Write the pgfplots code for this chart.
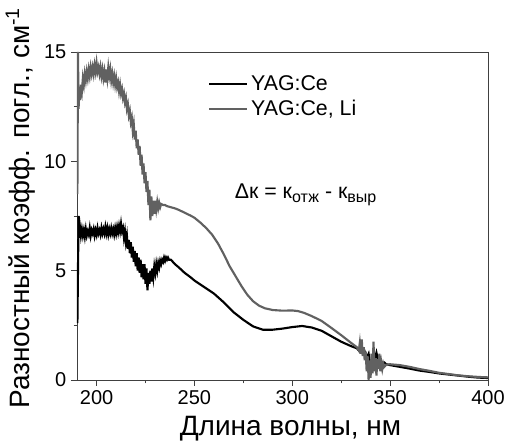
\documentclass[border=0pt]{standalone}
\usepackage{fontspec}
\setmainfont{Liberation Sans}
\usepackage{pgfplots}
\pgfplotsset{compat=1.18}

\pgfplotstableread{
x y
190.2 2.6
190.5 5.0
190.8 7.5
191.0 6.5
191.5 7.0
192.0 6.6
192.5 6.9
193.0 6.6
193.5 6.85
194.0 6.55
194.5 6.9
195.0 6.6
195.5 6.8
196.0 6.65
196.5 6.95
197.0 6.6
197.5 6.85
198.0 6.7
198.5 6.9
199.0 6.6
199.5 6.85
200.0 6.65
200.5 6.95
201.0 6.7
201.5 6.85
202.0 6.65
202.5 6.95
203.0 6.7
203.5 6.9
204.0 6.7
204.5 7.0
205.0 6.7
205.5 6.95
206.0 6.65
206.5 6.9
207.0 6.7
207.5 6.95
208.0 6.7
208.5 6.9
209.0 6.65
209.5 6.95
210.0 6.7
210.5 7.0
211.0 6.75
211.5 7.05
212.0 6.8
212.5 7.15
213.0 6.8
213.5 6.95
214.0 6.5
214.5 6.8
215.0 6.3
215.5 6.6
216.0 6.0
216.5 6.4
217.0 5.8
217.5 6.3
218.0 5.6
218.5 6.1
219.0 5.4
219.5 5.9
220.0 5.2
220.5 5.8
221.0 5.0
221.5 5.6
222.0 4.9
222.5 5.5
223.0 4.7
223.5 5.3
224.0 4.6
224.5 5.3
225.0 4.4
225.5 5.1
226.0 4.1
226.5 4.9
227.0 4.4
227.5 5.0
228.0 4.5
228.5 5.1
229.0 4.7
229.5 5.2
230.0 4.9
230.5 5.3
231.0 5.0
231.5 5.35
232.0 5.15
232.5 5.45
233.0 5.3
233.5 5.5
234.0 5.4
234.5 5.6
235.0 5.45
235.5 5.6
236.0 5.5
236.5 5.6
237.0 5.5
238.0 5.5
239.0 5.4
240.0 5.3
242 5.15
245 4.9
248 4.7
250 4.55
255 4.25
260 3.95
265 3.55
270 3.1
275 2.75
280 2.45
285 2.3
290 2.3
295 2.35
300 2.42
305 2.47
310 2.4
315 2.25
320 2.0
325 1.75
330 1.55
333 1.45
334 1.35
335 1.45
336 1.2
337 1.3
338 1.0
339 1.2
340 0.6
341 1.0
342 0.9
343 1.25
344 0.85
345 0.95
346 0.75
347 0.8
348 0.72
350 0.68
355 0.6
360 0.52
365 0.43
370 0.37
375 0.3
380 0.25
385 0.2
390 0.15
395 0.11
400 0.09
}\yagce

\pgfplotstableread{
x y
190.2 8.5
190.5 15.0
190.8 12.4
191.2 13.2
191.6 12.8
192.0 13.5
192.5 13.2
193.0 13.8
193.5 13.5
194.0 14.0
194.5 13.7
195.0 14.1
195.5 13.8
196.0 14.2
196.5 13.9
197.0 14.3
197.5 14.0
198.0 14.3
198.5 14.0
199.0 14.4
199.5 14.1
200.0 14.5
200.5 14.1
201.0 14.3
201.5 14.0
202.0 14.3
202.5 13.9
203.0 14.2
203.5 13.8
204.0 14.1
204.5 13.6
205.0 14.2
205.5 13.8
206.0 14.3
206.5 13.9
207.0 14.2
207.5 13.7
208.0 14.0
208.5 13.6
209.0 13.9
209.5 13.5
210.0 13.8
210.5 13.4
211.0 13.6
211.5 13.2
212.0 13.5
212.5 13.1
213.0 13.3
213.5 12.9
214.0 13.1
214.5 12.7
215.0 12.9
215.5 12.4
216.0 12.6
216.5 12.1
217.0 12.3
217.5 11.8
218.0 12.0
218.5 11.4
219.0 11.7
219.5 11.0
220.0 11.4
220.5 10.6
221.0 11.0
221.5 10.3
222.0 10.7
222.5 9.8
223.0 10.3
223.5 9.4
224.0 9.9
224.5 9.0
225.0 9.5
225.5 8.6
226.0 9.1
226.5 8.0
227.0 8.7
227.5 7.3
228.0 8.4
228.5 7.5
229.0 8.2
229.5 7.6
230.0 8.2
230.5 7.8
231.0 8.15
231.5 7.85
232.0 8.1
232.5 7.9
233.0 8.05
234.0 8.0
235.0 8.0
236.0 7.95
238.0 7.9
240.0 7.85
242 7.78
245 7.65
248 7.52
250 7.42
253 7.2
256 6.95
259 6.65
262 6.25
265 5.75
268 5.2
271 4.75
274 4.3
277 3.9
280 3.6
283 3.4
286 3.28
290 3.2
295 3.17
300 3.18
303 3.15
306 3.07
310 2.92
315 2.7
320 2.38
325 2.05
330 1.7
333 1.5
334 1.35
334.5 1.7
335 1.2
335.5 1.85
336 1.1
336.5 1.5
337 0.9
337.5 1.3
338 0.4
338.5 1.1
339 0.0
339.5 0.9
340 0.1
340.5 1.2
341 0.3
341.5 1.75
342 0.4
342.5 1.0
343 0.2
343.5 0.95
344 0.5
344.5 1.2
345 0.4
345.5 0.8
346 0.5
346.5 0.75
347 0.6
348 0.7
350 0.72
355 0.68
360 0.6
365 0.5
370 0.42
375 0.33
380 0.27
385 0.21
390 0.17
395 0.14
400 0.12
}\yagceli

\begin{document}
\begin{tikzpicture}
  \path[use as bounding box] (-57.75pt,-48.75pt) rectangle (323.25pt,285pt);
  \begin{axis}[
    at={(0,0)}, anchor=south west,
    scale only axis, width=308.25pt, height=246pt,
    xmin=190, xmax=400, ymin=0, ymax=15,
    xtick={200,250,...,400}, ytick={0,5,10,15},
    minor x tick num=1, minor y tick num=1,
    xtick pos=bottom, ytick pos=left,
    tick align=outside,
    major tick length=4.5pt, minor tick length=2.5pt,
    axis line style={black!75, line width=0.7pt},
    tick style={black!75, line width=0.7pt},
    /pgf/number format/assume math mode=true,
    ticklabel style={font=\fontsize{15}{16}\selectfont},
    xlabel={Длина волны, нм},
    ylabel={Разностный коэфф. погл., см\textsuperscript{-1}},
    label style={font=\fontsize{21}{22}\selectfont},
    xlabel style={xshift=6pt, yshift=-2pt},
    ylabel style={yshift=0pt, xshift=6pt},
    legend style={at={(axis cs:257,14.05)}, anchor=north west, draw=none, fill=none,
      font=\fontsize{16}{17}\selectfont, row sep=1.5pt, inner sep=0pt},
    legend cell align=left,
    legend image code/.code={\draw[#1] (0cm,0cm) -- (1cm,0cm);},
  ]
    \addplot[black, line width=1.6pt] table {\yagce};
    \addplot[black!62, line width=1.6pt] table {\yagceli};
    \legend{YAG:Ce, {YAG:Ce, Li}}
    \node[anchor=base west, font=\fontsize{16}{17}\selectfont, inner sep=0pt]
      at (axis cs:270.5,8.3) {Δк = к\raisebox{-0.35ex}{\fontsize{12}{12}\selectfont отж} - к\raisebox{-0.35ex}{\fontsize{12}{12}\selectfont выр}};
  \end{axis}
\end{tikzpicture}
\end{document}
